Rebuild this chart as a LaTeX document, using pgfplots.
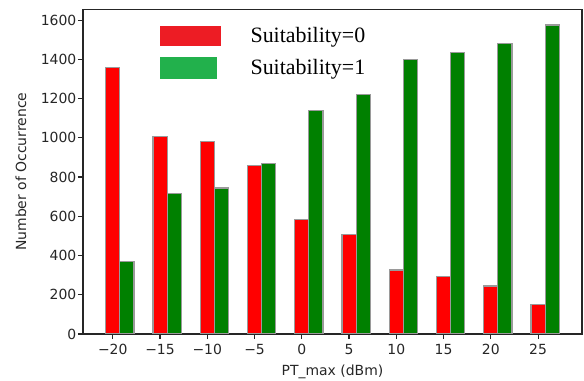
\documentclass[border=0pt]{standalone}
\usepackage{fontspec}
\setmainfont{DejaVu Sans}
\newfontfamily\serif{Liberation Serif}
\usepackage{pgfplots}
\pgfplotsset{compat=1.18}
\definecolor{barred}{HTML}{FF0000}
\definecolor{bargreen}{HTML}{008000}
\definecolor{legred}{HTML}{ED1C24}
\definecolor{leggreen}{HTML}{22B14C}
\definecolor{edgegray}{HTML}{9A9A9A}
\definecolor{axgray}{HTML}{262626}
\begin{document}
\begin{tikzpicture}
\begin{axis}[
  scale only axis, width=499bp, height=324.5bp,
  xmin=-23.15, xmax=29.65, ymin=0, ymax=1654,
  axis line style={draw=axgray, line width=1.1bp},
  xtick={-20,-15,...,25},
  xticklabels={−20,−15,−10,−5,0,5,10,15,20,25},
  ytick={0,200,...,1600},
  scaled y ticks=false,
  tick align=outside, xtick pos=bottom, ytick pos=left,
  major tick length=5bp,
  tick style={draw=axgray, line width=1.1bp},
  ticklabel style={font=\fontsize{14}{16}\selectfont, text=axgray},
  yticklabel style={inner sep=1.5bp},
  xticklabel style={inner sep=2bp, yshift=-3bp},
  /pgf/number format/assume math mode=true,
  /pgf/number format/1000 sep={},
  xlabel={PT\_max (dBm)}, ylabel={Number of Occurrence},
  every axis x label/.style={at={(rel axis cs:0.5,0)}, yshift=-37.7bp, anchor=center, font=\fontsize{14}{16}\selectfont, text=axgray},
  every axis y label/.style={at={(rel axis cs:0,0.5)}, xshift=-62bp, rotate=90, anchor=center, font=\fontsize{14}{16}\selectfont, text=axgray},
  legend style={draw=none, fill=none, at={(rel axis cs:0.1543,0.95)}, anchor=north west,
    font=\serif\fontsize{22}{26}\selectfont, inner sep=0pt, row sep=11bp, column sep=30bp,
    nodes={inner sep=0pt}},
  legend cell align=left,
]
\addplot[ybar, bar width=1.5, bar shift=0pt, fill=barred, draw=edgegray, line width=1.2bp, forget plot]
  coordinates {(-20,1360) (-15,1007) (-10,982) (-5,858) (0,584) (5,506) (10,326) (15,292) (20,245) (25,151)};
\addplot[ybar, bar width=1.5, bar shift=0pt, fill=bargreen, draw=edgegray, line width=1.2bp, forget plot]
  coordinates {(-18.5,368) (-13.5,717) (-8.5,744) (-3.5,871) (1.5,1141) (6.5,1221) (11.5,1400) (16.5,1435) (21.5,1479) (26.5,1575)};
\addlegendimage{legend image code/.code={\fill[legred] (0bp,-9.7bp) rectangle (60bp,9.7bp);}}
\addlegendentry{Suitability=0}
\addlegendimage{legend image code/.code={\fill[leggreen] (0bp,-10.5bp) rectangle (56bp,10.5bp);}}
\addlegendentry{Suitability=1}
\end{axis}
\pgfresetboundingbox
\path (-83bp,-47bp) rectangle (501bp,334bp);
\end{tikzpicture}
\end{document}
